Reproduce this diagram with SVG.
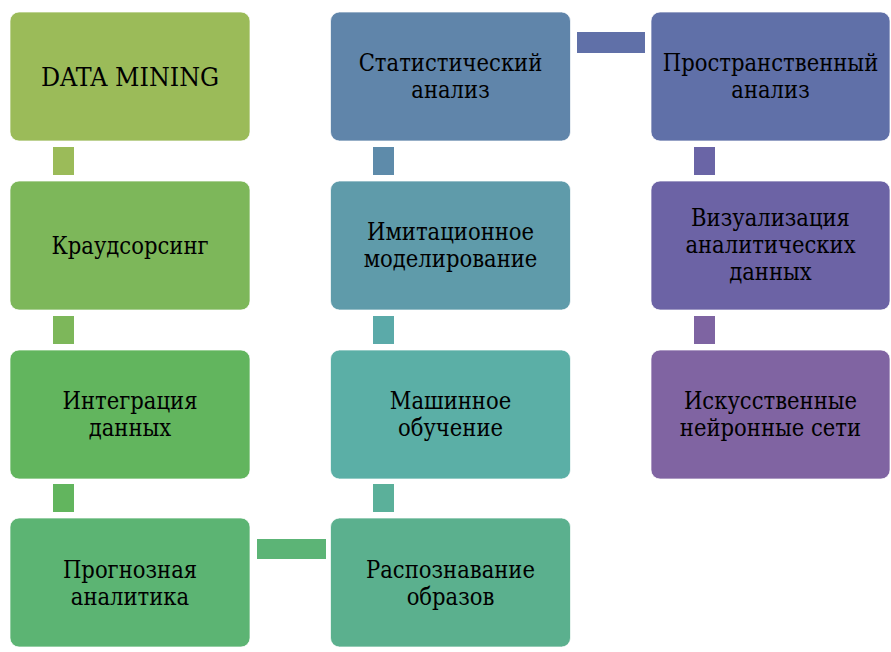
<svg xmlns="http://www.w3.org/2000/svg" width="891" height="652" viewBox="0 0 891 652">
  <style>
    .box { stroke: #ffffff; stroke-opacity: 0.7; stroke-width: 1; }
    text { font-family: "DejaVu Serif", "Liberation Serif", serif; font-stretch: condensed; font-size: 23.5px; fill: #000000; text-anchor: middle; }
    .title { font-size: 26.5px; }
  </style>
  <rect width="891" height="652" fill="#ffffff"/>

  <!-- connectors -->
  <g id="connectors">
    <rect x="53" y="147" width="21" height="28" fill="#9bbb59"/>
    <rect x="53" y="316" width="21" height="28" fill="#7db75a"/>
    <rect x="53" y="484" width="21" height="28" fill="#62b55e"/>
    <rect x="257" y="539" width="69" height="20" fill="#5cb476"/>
    <rect x="373" y="484" width="21" height="28" fill="#5bb09a"/>
    <rect x="373" y="316" width="21" height="28" fill="#5baaa9"/>
    <rect x="373" y="147" width="21" height="28" fill="#5e8baa"/>
    <rect x="577" y="32" width="68" height="21" fill="#6070a8"/>
    <rect x="694" y="147" width="21" height="28" fill="#6a65a6"/>
    <rect x="694" y="316" width="21" height="28" fill="#7e64a2"/>
  </g>

  <g id="data-mining">
    <rect class="box" x="10" y="12" width="240" height="129" rx="9" fill="#9bbb59"/>
    <text class="title" x="130" y="86">DATA MINING</text>
  </g>
  <g id="crowdsourcing">
    <rect class="box" x="10" y="181" width="240" height="129" rx="9" fill="#7db75a"/>
    <text x="130" y="254">Краудсорсинг</text>
  </g>
  <g id="data-integration">
    <rect class="box" x="10" y="350" width="240" height="129" rx="9" fill="#62b55e"/>
    <text x="130" y="409">Интеграция</text>
    <text x="130" y="436">данных</text>
  </g>
  <g id="predictive-analytics">
    <rect class="box" x="10" y="518" width="240" height="129" rx="9" fill="#5cb473"/>
    <text x="130" y="578">Прогнозная</text>
    <text x="130" y="605">аналитика</text>
  </g>
  <g id="pattern-recognition">
    <rect class="box" x="330.5" y="518" width="240" height="129" rx="9" fill="#5bb08e"/>
    <text x="450.5" y="578">Распознавание</text>
    <text x="450.5" y="605">образов</text>
  </g>
  <g id="machine-learning">
    <rect class="box" x="330.5" y="350" width="240" height="129" rx="9" fill="#5bafa6"/>
    <text x="450.5" y="409">Машинное</text>
    <text x="450.5" y="436">обучение</text>
  </g>
  <g id="simulation">
    <rect class="box" x="330.5" y="181" width="240" height="129" rx="9" fill="#5f9baa"/>
    <text x="450.5" y="240">Имитационное</text>
    <text x="450.5" y="267">моделирование</text>
  </g>
  <g id="statistical-analysis">
    <rect class="box" x="330.5" y="12" width="240" height="129" rx="9" fill="#6085aa"/>
    <text x="450.5" y="71">Статистический</text>
    <text x="450.5" y="98">анализ</text>
  </g>
  <g id="spatial-analysis">
    <rect class="box" x="651" y="12" width="239" height="129" rx="9" fill="#6070a8"/>
    <text x="770.5" y="71">Пространственный</text>
    <text x="770.5" y="98">анализ</text>
  </g>
  <g id="data-visualization">
    <rect class="box" x="651" y="181" width="239" height="129" rx="9" fill="#6c63a5"/>
    <text x="770.5" y="226">Визуализация</text>
    <text x="770.5" y="253">аналитических</text>
    <text x="770.5" y="280">данных</text>
  </g>
  <g id="neural-networks">
    <rect class="box" x="651" y="350" width="239" height="129" rx="9" fill="#8064a2"/>
    <text x="770.5" y="409">Искусственные</text>
    <text x="770.5" y="436">нейронные сети</text>
  </g>
</svg>
